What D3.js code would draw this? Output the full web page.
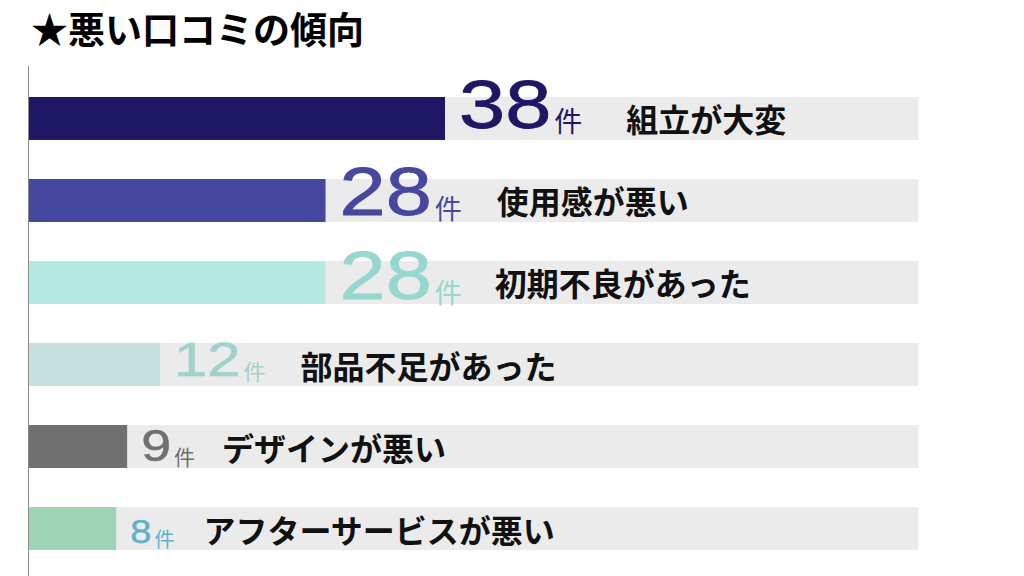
<!DOCTYPE html>
<html><head><meta charset="utf-8">
<script src="https://cdn.jsdelivr.net/npm/d3@7"></script>
<style>
html,body{margin:0;padding:0;background:#fff;}
svg{display:block;}
</style></head>
<body>
<svg id="chart" width="1024" height="576"></svg>
<script>
// ---- data ----
const title = "★悪い口コミの傾向";
const categories = ["組立が大変","使用感が悪い","初期不良があった","部品不足があった","デザインが悪い","アフターサービスが悪い"];
const counts = [38, 28, 28, 12, 9, 8];           // printed counts
const barValues = [38, 27.1, 27.1, 12, 9, 8];     // bar lengths as drawn in the picture
const unitLabel = "件";
const trackMax = 81.2;                             // length of the grey track

// ---- styles ----
const barColors = ["#1e1765","#4648a0","#b3e8e3","#c6e0dd","#707070","#9dd4b5"];
const numColors = ["#1e1765","#4648a0","#96d7cf","#a1d1cc","#707070","#5db2c8"];
const numSizes = [68, 68, 68, 49, 44, 34];
const numBaseOffsets = [9.5, 15, 16.5, 11.5, 14.5, 14];
const unitSizes = [28, 27, 27, 22, 21, 20];
const labelGaps = [44, 35, 33, 35, 27, 29];

const svg = d3.select("#chart");
const x = d3.scaleLinear().domain([0, trackMax]).range([28.5, 918.5]);
const y = d3.scaleBand().domain(categories).range([97, 550]).paddingInner(0.476).paddingOuter(0);

svg.append("text").attr("x", 31).attr("y", 44)
  .attr("font-family", "'Noto Sans CJK JP', sans-serif").attr("font-weight", 700)
  .attr("font-size", 37).attr("fill", "#000").text(title);

// grey tracks
svg.selectAll("rect.track").data(categories).join("rect").attr("class","track")
  .attr("x", x(0)).attr("y", d => y(d)).attr("width", x(trackMax) - x(0))
  .attr("height", y.bandwidth()).attr("fill", "#ebebeb");

// value bars
svg.selectAll("rect.bar").data(categories).join("rect").attr("class","bar")
  .attr("x", x(0)).attr("y", d => y(d))
  .attr("width", (d,i) => x(barValues[i]) - x(0))
  .attr("height", y.bandwidth()).attr("fill", (d,i) => barColors[i]);

// axis line
svg.append("line").attr("x1", 28.5).attr("x2", 28.5).attr("y1", 66).attr("y2", 576)
  .attr("stroke", "#8a8a8a").attr("stroke-width", 1);

// labels
categories.forEach((c, i) => {
  const cy = y(c) + y.bandwidth() / 2;
  const fs = numSizes[i];
  const nx = x(barValues[i]) + 14;
  const base = cy + numBaseOffsets[i];
  const num = svg.append("text").attr("x", nx).attr("y", base)
    .attr("font-family", "'Liberation Sans', Arial, sans-serif")
    .attr("font-size", fs).attr("fill", numColors[i])
    .attr("stroke", numColors[i]).attr("stroke-width", fs * 0.012)
    .text(counts[i]);
  const natural = num.node().getComputedTextLength();
  const w = natural * (fs > 40 ? 1.22 : 1.12);
  num.attr("textLength", w).attr("lengthAdjust", "spacingAndGlyphs");
  const ux = nx + w + 3;
  const unit = svg.append("text").attr("x", ux).attr("y", base + 4)
    .attr("font-family", "'Noto Sans CJK JP', sans-serif")
    .attr("font-size", unitSizes[i]).attr("fill", numColors[i]).text(unitLabel);
  const uw = unit.node().getComputedTextLength();
  svg.append("text").attr("x", ux + uw + labelGaps[i]).attr("y", cy)
    .attr("dominant-baseline", "central")
    .attr("font-family", "'Noto Sans CJK JP', sans-serif").attr("font-weight", 700)
    .attr("font-size", 32).attr("fill", "#111").text(c);
});
</script>
</body></html>
